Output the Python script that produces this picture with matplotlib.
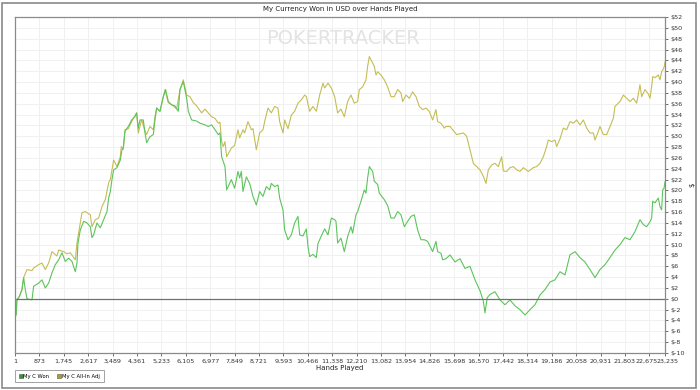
"""
currency won over hands played chart
"""

import matplotlib
matplotlib.use("Agg")
import matplotlib.pyplot as plt
import matplotlib.transforms as mtransforms
from matplotlib.lines import Line2D
from matplotlib.ticker import FuncFormatter


# My C Won (hands, dollars)
won_hands = [1, 40, 71, 155, 250, 310, 369, 429, 608, 667, 846, 965, 1084, 1203,
             1323, 1442, 1561, 1680, 1799, 1918, 2037, 2157, 2216, 2252, 2335,
             2454, 2574, 2693, 2752, 2812, 2931, 3050, 3170, 3289, 3348, 3408,
             3467, 3527, 3646, 3765, 3825, 3872, 3932, 4051, 4170, 4289, 4349,
             4408, 4468, 4587, 4647, 4706, 4825, 4945, 5004, 5064, 5183, 5302,
             5385, 5480, 5600, 5719, 5838, 5898, 6017, 6076, 6136, 6196, 6315,
             6493, 6613, 6791, 6910, 7030, 7149, 7268, 7328, 7387, 7507, 7566,
             7733, 7852, 7971, 8031, 8091, 8150, 8269, 8388, 8508, 8627, 8746,
             8865, 8984, 9103, 9163, 9282, 9401, 9461, 9580, 9640, 9759, 9878,
             9997, 10116, 10176, 10295, 10414, 10474, 10533, 10652, 10772, 10831,
             10950, 11069, 11189, 11308, 11427, 11474, 11534, 11653, 11772, 11891,
             12010, 12070, 12189, 12248, 12368, 12487, 12546, 12606, 12666, 12785,
             12844, 12963, 13023, 13202, 13321, 13440, 13559, 13678, 13797, 13917,
             14036, 14155, 14274, 14393, 14512, 14631, 14751, 14929, 15048, 15108,
             15227, 15287, 15406, 15550, 15728, 15907, 16086, 16264, 16443, 16622,
             16740, 16800, 16880, 16979, 17158, 17336, 17515, 17694, 17873, 18051,
             18230, 18409, 18587, 18766, 18945, 19124, 19302, 19481, 19660, 19838,
             20017, 20196, 20374, 20553, 20732, 20911, 21090, 21268, 21447, 21626,
             21804, 21983, 22162, 22341, 22460, 22579, 22698, 22758, 22794, 22877,
             22996, 23056, 23115, 23151, 23200, 23235]
won_values = [0.0, -3.0, -0.2, 0.4, 1.7, 3.9, 1.7, 0.0, -0.2, 2.3, 2.9, 3.5, 2.0, 2.9,
              4.8, 6.3, 7.2, 8.5, 6.9, 7.5, 6.9, 5.0, 6.6, 10.3, 12.7,
              14.3, 14.0, 13.3, 11.3, 11.8, 14.0, 13.1, 14.6, 16.1, 18.6, 19.8,
              22.0, 23.8, 24.2, 25.6, 27.5, 27.8, 30.9, 31.8, 33.0, 33.6, 34.3,
              31.5, 33.0, 33.0, 30.6, 28.8, 29.9, 30.3, 33.0, 35.2, 34.6, 37.3,
              38.6, 36.4, 35.8, 35.6, 34.6, 38.6, 40.1, 38.6, 37.0, 34.6, 33.0,
              32.8, 32.4, 32.1, 31.8, 32.1, 31.2, 30.3, 30.6, 26.2, 24.4, 20.1,
              22.0, 20.4, 23.5, 22.3, 23.5, 19.8, 22.5, 21.3, 18.9, 17.3, 19.8,
              18.9, 20.7, 20.1, 21.3, 20.7, 21.0, 18.6, 16.4, 12.7, 10.9, 11.8,
              14.0, 15.2, 11.8, 11.6, 12.9, 9.6, 7.8, 8.2, 7.6, 10.2,
              11.6, 12.9, 11.8, 14.9, 14.6, 14.3, 10.3, 11.2, 8.7, 11.5,
              13.3, 12.1, 15.5, 16.1, 18.0, 20.1, 19.5, 22.3, 24.4, 23.5,
              21.7, 21.1, 19.5, 18.3, 17.2, 14.9, 14.9, 16.1, 15.5, 13.3,
              14.3, 15.2, 15.5, 12.7, 10.9, 10.9, 10.6, 8.7, 10.6, 8.7,
              8.4, 7.2, 7.4, 8.1, 6.8, 7.4, 5.6, 6.0, 3.5, 1.5,
              -0.4, -2.6, 0.2, 0.8, 1.3, -0.2, -1.1, -0.2, -1.3, -2.0,
              -3.0, -2.0, -1.1, 0.7, 1.7, 3.1, 3.5, 5.0, 4.4, 8.1,
              8.7, 7.6, 6.8, 5.4, 3.9, 5.4, 6.3, 7.6, 9.0, 10.0,
              11.3, 10.9, 12.4, 14.6, 13.7, 13.3, 14.2, 14.9, 18.0, 17.7,
              18.6, 17.0, 16.4, 20.1, 20.4, 21.6]

# My C All-In Adj (hands, dollars)
adj_hands = [1, 40, 71, 155, 250, 310, 429, 608, 667, 846, 965, 1084, 1203, 1323,
             1501, 1561, 1740, 1859, 1978, 2157, 2216, 2276, 2395, 2514, 2693,
             2752, 2872, 2991, 3110, 3229, 3348, 3408, 3527, 3646, 3765, 3801,
             3872, 3932, 4051, 4230, 4349, 4408, 4527, 4647, 4706, 4825, 4945,
             5004, 5064, 5183, 5362, 5480, 5659, 5779, 5898, 6017, 6136, 6255,
             6374, 6493, 6672, 6791, 6910, 7030, 7149, 7268, 7328, 7387, 7447,
             7507, 7566, 7733, 7852, 7971, 8031, 8150, 8210, 8329, 8448, 8508,
             8627, 8746, 8865, 8925, 9044, 9163, 9282, 9401, 9461, 9580, 9640,
             9759, 9878, 9997, 10116, 10235, 10355, 10414, 10533, 10652, 10772,
             10891, 11010, 11069, 11189, 11308, 11427, 11534, 11653, 11772, 11891,
             12010, 12129, 12248, 12308, 12427, 12546, 12606, 12666, 12725, 12844,
             12904, 12963, 13083, 13202, 13321, 13440, 13559, 13678, 13797, 13857,
             13976, 14095, 14214, 14334, 14453, 14572, 14691, 14810, 14929, 15048,
             15108, 15227, 15347, 15406, 15550, 15788, 16026, 16145, 16264, 16384,
             16503, 16622, 16741, 16836, 16920, 17039, 17158, 17277, 17396, 17456,
             17575, 17694, 17813, 17933, 18052, 18171, 18350, 18528, 18647, 18767,
             18886, 19005, 19064, 19184, 19303, 19362, 19481, 19601, 19720, 19839,
             19958, 20077, 20197, 20316, 20435, 20554, 20673, 20733, 20852, 20911,
             21030, 21150, 21269, 21388, 21447, 21626, 21745, 21864, 21984, 22103,
             22222, 22341, 22401, 22520, 22639, 22698, 22758, 22794, 22877, 22996,
             23056, 23115, 23175, 23210, 23235]
adj_values = [0.0, -3.0, -0.2, 0.4, 1.7, 3.9, 5.4, 5.2, 5.7, 6.3, 6.6, 5.4, 6.6, 8.7,
              7.9, 9.0, 8.7, 8.3, 8.5, 7.2, 10.3, 12.2, 15.9, 16.1, 15.5,
              13.3, 14.6, 14.9, 17.0, 18.3, 21.4, 22.0, 25.6, 24.4, 26.2, 28.1,
              27.6, 31.2, 31.4, 33.3, 34.3, 30.6, 33.0, 31.0, 30.3, 31.8, 31.2,
              33.6, 35.2, 34.6, 38.6, 36.2, 35.6, 35.0, 38.6, 40.4, 37.6, 37.3,
              36.2, 35.6, 34.3, 35.0, 34.3, 33.6, 33.3, 32.4, 32.6, 29.0, 28.1,
              29.0, 26.2, 27.8, 28.3, 31.2, 29.7, 31.2, 30.6, 32.7, 31.2, 31.4,
              27.5, 30.6, 31.2, 32.7, 35.2, 34.3, 35.5, 35.2, 32.7, 30.6, 33.0,
              31.4, 33.9, 34.6, 36.1, 36.7, 37.6, 37.3, 34.6, 35.5, 34.6,
              37.6, 39.8, 38.9, 39.8, 38.9, 37.3, 34.3, 35.0, 33.6, 36.4,
              37.6, 36.1, 36.4, 38.6, 39.1, 40.4, 42.9, 44.7, 44.1, 42.9,
              41.3, 41.9, 41.3, 40.4, 39.1, 37.3, 37.3, 38.6, 38.0, 36.4,
              37.6, 37.0, 38.2, 37.3, 35.5, 34.9, 35.2, 34.6, 33.0, 34.9,
              32.7, 32.4, 31.5, 31.8, 31.8, 30.3, 30.6, 30.0, 27.5, 25.0,
              24.4, 23.8, 22.6, 21.3, 23.8, 24.7, 25.0, 24.4, 26.2, 23.6,
              23.5, 24.2, 24.4, 23.8, 23.5, 24.2, 23.5, 24.2, 24.4, 25.0,
              26.2, 28.1, 29.3, 29.0, 29.3, 28.1, 29.5, 31.5, 31.2, 32.7,
              32.4, 33.0, 32.1, 33.0, 31.5, 30.6, 30.6, 29.3, 30.9, 31.8,
              30.3, 30.3, 31.8, 33.3, 35.5, 36.4, 37.6, 37.0, 36.4, 37.0,
              36.1, 39.5, 37.3, 38.6, 37.8, 37.0, 39.2, 41.0, 40.8, 41.3,
              40.4, 41.9, 42.4, 42.9, 43.7]

x_ticks = [1, 873, 1745, 2617, 3489, 4361, 5233, 6105, 6977, 7849, 8721, 9593,
           10466, 11338, 12210, 13082, 13954, 14826, 15698, 16570, 17442, 18314,
           19186, 20058, 20931, 21803, 22675, 23235]
y_ticks = list(range(-10, 54, 2))


def viz():
    fig = plt.figure(figsize=(7, 3.9), dpi=100)
    ax = fig.add_axes([15 / 700, 1 - 353 / 390, 650 / 700, 336 / 390])

    # outer frame of the whole picture
    fig.patches.append(plt.Rectangle((2 / 700, 2 / 390), 694 / 700, 385 / 390,
                                     transform=fig.transFigure, fill=False,
                                     edgecolor="#8a8a8a", linewidth=1.2))

    # watermark
    fig.text(343 / 700, 1 - 38 / 390, "POKERTRACKER", ha="center", va="center",
             fontsize=14, color="#e3e3e3")

    ax.plot(adj_hands, adj_values, color="#c4bd55", linewidth=0.8)
    ax.plot(won_hands, won_values, color="#5cc45c", linewidth=0.8)
    ax.axhline(0, color="#707070", linewidth=0.9)

    ax.set_xlim(1, 23235)
    ax.set_ylim(-10, 52)
    ax.set_xticks(x_ticks)
    ax.set_yticks(y_ticks)
    ax.xaxis.set_major_formatter(FuncFormatter(lambda v, p: f"{int(v):,}"))
    ax.yaxis.set_major_formatter(FuncFormatter(lambda v, p: f"${int(v)}"))
    ax.yaxis.tick_right()
    ax.yaxis.set_label_position("right")
    ax.tick_params(axis="both", labelsize=4.6, length=2.5, width=0.6,
                   color="#555555", labelcolor="#333333", pad=1.5)
    ax.grid(True, color="#f0f0f0", linewidth=0.7)
    ax.set_axisbelow(True)
    for s in ax.spines.values():
        s.set_color("#8a8a8a")
        s.set_linewidth(0.9)

    # last two hand labels sit edge to edge, as in the original
    xlabels = ax.get_xticklabels()
    xlabels[-2].set_transform(xlabels[-2].get_transform() +
                              mtransforms.ScaledTranslation(-2.5 / 100, 0, fig.dpi_scale_trans))
    xlabels[-1].set_transform(xlabels[-1].get_transform() +
                              mtransforms.ScaledTranslation(3 / 100, 0, fig.dpi_scale_trans))

    ax.set_title("My Currency Won in USD over Hands Played", fontsize=5, pad=4,
                 color="#222222")
    ax.set_xlabel("Hands Played", fontsize=5, labelpad=1, color="#222222")
    ax.set_ylabel("$", fontsize=5, labelpad=3, color="#222222")

    handles = [
        Line2D([], [], marker="s", linestyle="none", markersize=3.3,
               markerfacecolor="#2e9a2e", markeredgecolor="#555555",
               markeredgewidth=0.4),
        Line2D([], [], marker="s", linestyle="none", markersize=3.3,
               markerfacecolor="#a8a020", markeredgecolor="#555555",
               markeredgewidth=0.4),
    ]
    leg = fig.legend(handles, ["My C Won", "My C All-In Adj"], ncol=2,
                     loc="upper left", bbox_to_anchor=(15 / 700, 1 - 370 / 390),
                     fontsize=3.8, frameon=True, fancybox=False,
                     handlelength=0.7, handletextpad=0.15, columnspacing=1.6,
                     borderpad=0.7, borderaxespad=0)
    leg.get_frame().set_edgecolor("#8a8a8a")
    leg.get_frame().set_linewidth(0.7)

    fig.savefig("out.png", dpi=100)


if __name__ == "__main__":
    viz()
